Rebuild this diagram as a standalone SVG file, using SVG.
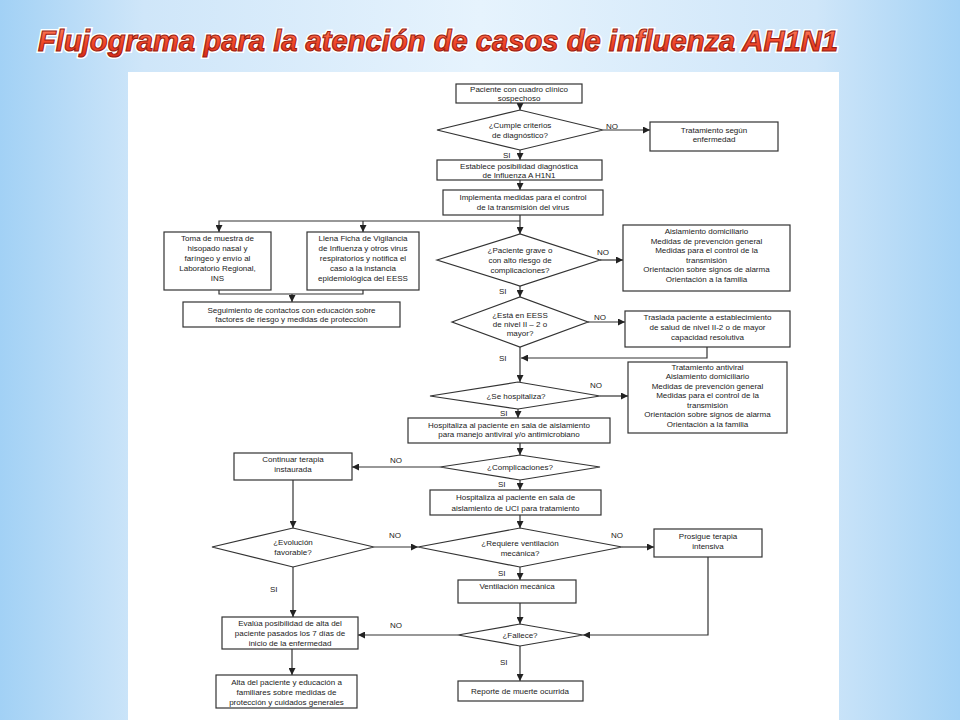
<svg xmlns="http://www.w3.org/2000/svg" width="960" height="720" viewBox="0 0 960 720">
<defs>
<linearGradient id="bg" x1="0" y1="0" x2="1" y2="0">
<stop offset="0" stop-color="#a2d1f5"/>
<stop offset="0.15" stop-color="#cfe6f9"/>
<stop offset="0.5" stop-color="#e6f3fd"/>
<stop offset="0.85" stop-color="#cfe6f9"/>
<stop offset="1" stop-color="#a4d2f5"/>
</linearGradient>
<linearGradient id="tg" x1="0" y1="0" x2="0" y2="1">
<stop offset="0" stop-color="#ff8a6a"/>
<stop offset="0.5" stop-color="#f24a2c"/>
<stop offset="1" stop-color="#d62a18"/>
</linearGradient>
<marker id="ah" viewBox="0 0 8 8" refX="8" refY="4" markerWidth="7" markerHeight="7" markerUnits="userSpaceOnUse" orient="auto">
<path d="M0,0 L8,4 L0,8 z" fill="#222"/>
</marker>
<style>
.box{fill:#fff;stroke:#333;stroke-width:1.2}
.t{font-family:"Liberation Sans",Arial,sans-serif;font-size:8px;fill:#222;text-anchor:middle}
.l{font-family:"Liberation Sans",Arial,sans-serif;font-size:8px;fill:#222}
.c{fill:none;stroke:#333;stroke-width:1.2}
.a{marker-end:url(#ah)}
.title{font-family:"Liberation Sans",Arial,sans-serif;font-weight:bold;font-style:italic;font-size:25px}
</style>
</defs>
<rect x="0" y="0" width="960" height="720" fill="url(#bg)"/>
<g transform="translate(38,51) scale(1,1.15)">
<text class="title" x="0" y="0" textLength="800" lengthAdjust="spacingAndGlyphs" fill="none" stroke="#ffffff" stroke-width="3.5">Flujograma para la atención de casos de influenza AH1N1</text>
<text class="title" x="0" y="0" textLength="800" lengthAdjust="spacingAndGlyphs" fill="url(#tg)" stroke="#9a1c10" stroke-width="0.9">Flujograma para la atención de casos de influenza AH1N1</text>
</g>
<rect x="128" y="72" width="711" height="648" fill="#ffffff"/>

<g id="connectors">
<path class="c a" d="M520,103 L520,110"/>
<path class="c a" d="M603,130 L650,130"/>
<path class="c a" d="M520,150 L520,160"/>
<path class="c a" d="M520,180 L520,190"/>
<path class="c a" d="M520,215 L520,234"/>
<path class="c a" d="M520,221 L219,221 L219,232"/>
<path class="c a" d="M363,221 L363,232"/>
<path class="c" d="M219,290 L219,294 L363,294 L363,290"/>
<path class="c a" d="M292,294 L292,302"/>
<path class="c a" d="M600,260 L623,260"/>
<path class="c a" d="M520,286 L520,297"/>
<path class="c a" d="M588,322 L625,322"/>
<path class="c a" d="M520,347 L520,382"/>
<path class="c a" d="M707,347 L707,358 L521,358"/>
<path class="c a" d="M600,396 L628,396"/>
<path class="c a" d="M518,409 L518,418"/>
<path class="c a" d="M520,443 L520,455"/>
<path class="c a" d="M440,467 L352,467"/>
<path class="c a" d="M520,480 L520,490"/>
<path class="c a" d="M293,480 L293,528"/>
<path class="c a" d="M520,515 L520,528"/>
<path class="c a" d="M374,547 L418,547"/>
<path class="c a" d="M622,547 L654,547"/>
<path class="c a" d="M520,567 L520,580"/>
<path class="c a" d="M520,603 L520,624"/>
<path class="c a" d="M708,557 L708,635 L583,635"/>
<path class="c a" d="M458,635 L358,635"/>
<path class="c a" d="M293,567 L293,617"/>
<path class="c a" d="M292,649 L292,675"/>
<path class="c a" d="M520,646 L520,681"/>
<text class="l" x="606" y="129">NO</text>
<text class="l" x="503" y="158">SI</text>
<text class="l" x="597" y="255">NO</text>
<text class="l" x="499" y="294">SI</text>
<text class="l" x="594" y="320">NO</text>
<text class="l" x="499" y="361">SI</text>
<text class="l" x="590" y="388">NO</text>
<text class="l" x="500" y="416">SI</text>
<text class="l" x="390" y="463">NO</text>
<text class="l" x="498" y="487">SI</text>
<text class="l" x="389" y="538">NO</text>
<text class="l" x="611" y="538">NO</text>
<text class="l" x="498" y="576">SI</text>
<text class="l" x="270" y="592">SI</text>
<text class="l" x="390" y="628">NO</text>
<text class="l" x="500" y="665">SI</text>
</g>

<g id="n1"><rect class="box" x="456" y="84" width="126" height="19"/>
<text class="t" x="519" y="92">Paciente con cuadro clínico</text>
<text class="t" x="519" y="101">sospechoso</text></g>

<g id="d1"><polygon class="box" points="437,130 520,110 603,130 520,150"/>
<text class="t" x="520" y="128">¿Cumple criterios</text>
<text class="t" x="520" y="138">de diagnóstico?</text></g>

<g id="n2"><rect class="box" x="650" y="122" width="128" height="29"/>
<text class="t" x="714" y="133">Tratamiento según</text>
<text class="t" x="714" y="142">enfermedad</text></g>

<g id="n3"><rect class="box" x="437" y="160" width="165" height="20"/>
<text class="t" x="519" y="168.5">Establece posibilidad diagnóstica</text>
<text class="t" x="519" y="177.5">de Influenza A H1N1</text></g>

<g id="n4"><rect class="box" x="443" y="190" width="160" height="25"/>
<text class="t" x="523" y="200">Implementa  medidas para el control</text>
<text class="t" x="523" y="210">de la transmisión del  virus</text></g>

<g id="n5"><rect class="box" x="164" y="232" width="107" height="58"/>
<text class="t" x="217.5" y="240.5">Toma de muestra de</text>
<text class="t" x="217.5" y="250.5">hisopado nasal y</text>
<text class="t" x="217.5" y="260.5">faríngeo y envío al</text>
<text class="t" x="217.5" y="270.5">Laboratorio Regional,</text>
<text class="t" x="217.5" y="280.5">INS</text></g>

<g id="n6"><rect class="box" x="307" y="232" width="112" height="58"/>
<text class="t" x="363" y="240.5">Llena Ficha de Vigilancia</text>
<text class="t" x="363" y="250.5">de Influenza y otros virus</text>
<text class="t" x="363" y="260.5">respiratorios y notifica el</text>
<text class="t" x="363" y="270.5">caso a la instancia</text>
<text class="t" x="363" y="280.5">epidemiológica del EESS</text></g>

<g id="n7"><rect class="box" x="183" y="302" width="217" height="25"/>
<text class="t" x="291.5" y="312.5">Seguimiento de contactos con educación sobre</text>
<text class="t" x="291.5" y="322">factores de riesgo y medidas de protección</text></g>

<g id="d2"><polygon class="box" points="437,260 520,234 600,260 520,286"/>
<text class="t" x="520" y="253">¿Paciente grave o</text>
<text class="t" x="520" y="263">con alto riesgo de</text>
<text class="t" x="520" y="273">complicaciones?</text></g>

<g id="n8"><rect class="box" x="623" y="225" width="167" height="66"/>
<text class="t" x="706.5" y="234">Aislamiento domiciliario</text>
<text class="t" x="706.5" y="243.5">Medidas de prevención general</text>
<text class="t" x="706.5" y="253">Medidas para el control de la</text>
<text class="t" x="706.5" y="262.5">transmisión</text>
<text class="t" x="706.5" y="272">Orientación sobre signos de alarma</text>
<text class="t" x="706.5" y="281.5">Orientación a la familia</text></g>

<g id="d3"><polygon class="box" points="452,322 520,297 588,322 520,347"/>
<text class="t" x="520" y="318">¿Está en EESS</text>
<text class="t" x="520" y="327">de nivel II – 2 o</text>
<text class="t" x="520" y="336">mayor?</text></g>

<g id="n9"><rect class="box" x="625" y="311" width="165" height="36"/>
<text class="t" x="707.5" y="320">Traslada paciente a establecimiento</text>
<text class="t" x="707.5" y="330">de salud de nivel II-2 o de mayor</text>
<text class="t" x="707.5" y="340">capacidad resolutiva</text></g>

<g id="d4"><polygon class="box" points="430,396 518,382 600,396 518,409"/>
<text class="t" x="516" y="399">¿Se hospitaliza?</text></g>

<g id="n10"><rect class="box" x="628" y="362" width="159" height="71"/>
<text class="t" x="707.5" y="369.5">Tratamiento antiviral</text>
<text class="t" x="707.5" y="379">Aislamiento domiciliario</text>
<text class="t" x="707.5" y="388.5">Medidas de prevención general</text>
<text class="t" x="707.5" y="398">Medidas para el control de la</text>
<text class="t" x="707.5" y="407.5">transmisión</text>
<text class="t" x="707.5" y="417">Orientación sobre signos de alarma</text>
<text class="t" x="707.5" y="426.5">Orientación a la familia</text></g>

<g id="n11"><rect class="box" x="408" y="418" width="202" height="25"/>
<text class="t" x="509" y="427.5">Hospitaliza al paciente en  sala de aislamiento</text>
<text class="t" x="509" y="437">para  manejo antiviral y/o antimicrobiano</text></g>

<g id="d5"><polygon class="box" points="440,467 520,455 600,467 520,480"/>
<text class="t" x="520" y="470">¿Complicaciones?</text></g>

<g id="n12"><rect class="box" x="234" y="453" width="118" height="27"/>
<text class="t" x="293" y="462">Continuar  terapia</text>
<text class="t" x="293" y="471.5">instaurada</text></g>

<g id="n13"><rect class="box" x="430" y="490" width="171" height="25"/>
<text class="t" x="515.5" y="500">Hospitaliza al paciente en sala de</text>
<text class="t" x="515.5" y="510.5">aislamiento de UCI  para tratamiento</text></g>

<g id="d6"><polygon class="box" points="212,547 293,528 374,547 293,567"/>
<text class="t" x="293" y="545">¿Evolución</text>
<text class="t" x="293" y="555">favorable?</text></g>

<g id="d7"><polygon class="box" points="418,547 520,528 622,547 520,567"/>
<text class="t" x="520" y="545.5">¿Requiere ventilación</text>
<text class="t" x="520" y="555.5">mecánica?</text></g>

<g id="n14"><rect class="box" x="654" y="529" width="108" height="28"/>
<text class="t" x="708" y="539">Prosigue terapia</text>
<text class="t" x="708" y="548.5">intensiva</text></g>

<g id="n15"><rect class="box" x="458" y="580" width="118" height="23"/>
<text class="t" x="517" y="589">Ventilación mecánica</text></g>

<g id="d8"><polygon class="box" points="458,635 520,624 583,635 520,646"/>
<text class="t" x="520" y="638">¿Fallece?</text></g>

<g id="n16"><rect class="box" x="222" y="617" width="136" height="32"/>
<text class="t" x="290" y="625.5">Evalúa posibilidad de alta del</text>
<text class="t" x="290" y="635.5">paciente pasados los 7 días de</text>
<text class="t" x="290" y="645.5">inicio de la enfermedad</text></g>

<g id="n17"><rect class="box" x="216" y="675" width="141" height="33"/>
<text class="t" x="286.5" y="684.5">Alta del paciente y educación a</text>
<text class="t" x="286.5" y="694.5">familiares sobre medidas de</text>
<text class="t" x="286.5" y="704.5">protección y cuidados generales</text></g>

<g id="n18"><rect class="box" x="458" y="681" width="125" height="20"/>
<text class="t" x="520" y="693.5">Reporte de muerte ocurrida</text></g>
</svg>
